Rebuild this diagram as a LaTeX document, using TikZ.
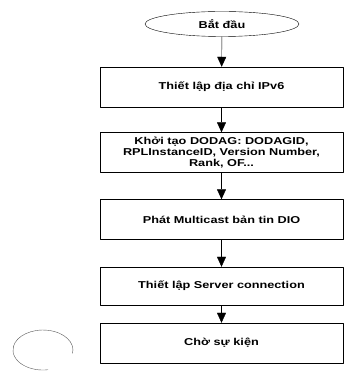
\documentclass[tikz,border=0pt]{standalone}
\usepackage{fontspec}
\setmainfont[FakeStretch=1.27]{Liberation Sans}
\usetikzlibrary{shapes.geometric,arrows.meta}
\tikzset{
  stepbox/.style={draw, minimum width=243pt, minimum height=40pt, inner sep=0pt, align=center},
  startnode/.style={draw, ellipse, minimum width=154pt, minimum height=25pt, inner sep=0pt},
  flow/.style={draw=black, -{Triangle[width=9pt,length=10pt,fill=black]}}
}
\begin{document}
\begin{tikzpicture}[x=1pt, y=1pt, font=\fontsize{10}{10.7}\selectfont\bfseries, line join=round]
        \useasboundingbox (0,0) rectangle (345,372);
        \clip (0,0) rectangle (345,372);
        \node[startnode] (start) at (222,348) {Bắt đầu};
        \node[stepbox] (ip) at (221.5,285) {Thiết lập địa chỉ IPv6};
        \node[stepbox] (dodag) at (221.5,219.5) {Khởi tạo DODAG: DODAGID,\\RPLInstanceID, Version Number,\\Rank, OF...};
        \node[stepbox] (dio) at (221.5,152.5) {Phát Multicast bản tin DIO};
        \node[stepbox, minimum height=38pt] (server) at (221.5,86) {Thiết lập Server connection};
        \node[stepbox] (wait) at (221.5,29) {Chờ sự kiện};
        \draw[flow] (start)--(ip);
        \draw[flow] (ip)--(dodag);
        \draw[flow] (dodag)--(dio);
        \draw[flow] (dio)--(server);
        \draw[flow] (server)--(wait);
        \draw[gray!70!black] (72.5,18.5) arc[start angle=-10, end angle=280, x radius=30, y radius=20];
    \end{tikzpicture}
\end{document}
